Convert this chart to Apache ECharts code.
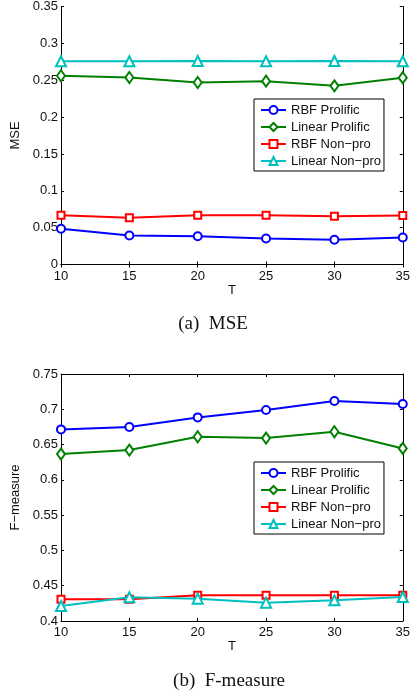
<!DOCTYPE html>
<html><head><meta charset="utf-8">
<script src="https://cdn.jsdelivr.net/npm/echarts@6/dist/echarts.min.js"></script>
<style>html,body{margin:0;padding:0;background:#fff}#c{width:413px;height:691px}</style>
</head><body><div id="c"></div>
<script>
var T = [10, 15, 20, 25, 30, 35];
var seriesNames = ['RBF Prolific', 'Linear Prolific', 'RBF Non\u2212pro', 'Linear Non\u2212pro'];
var mseRbfProlific = [0.0484, 0.0393, 0.0384, 0.0353, 0.0335, 0.0366];
var mseLinearProlific = [0.2560, 0.2537, 0.2469, 0.2487, 0.2424, 0.2533];
var mseRbfNonpro = [0.0669, 0.0633, 0.0669, 0.0669, 0.0655, 0.0664];
var mseLinearNonpro = [0.2758, 0.2758, 0.2760, 0.2758, 0.2760, 0.2758];
var fRbfProlific = [0.6715, 0.6748, 0.6885, 0.6989, 0.7117, 0.7074];
var fLinearProlific = [0.6365, 0.6422, 0.6611, 0.6592, 0.6682, 0.6445];
var fRbfNonpro = [0.4307, 0.4307, 0.4364, 0.4364, 0.4364, 0.4364];
var fLinearNonpro = [0.4213, 0.4335, 0.4317, 0.4260, 0.4293, 0.4341];
var captions = ['(a)  MSE', '(b)  F-measure'];

var colors = ['#0000ff', '#008000', '#ff0000', '#00bfbf'];
var symbols = ['emptyCircle', 'emptyDiamond', 'emptyRect', 'emptyTriangle'];
var symSizes = [8, [8, 11], 7, 10];
var font = 'Liberation Sans, Arial, sans-serif';

function pairs(v) { return T.map(function (t, i) { return [t, v[i]]; }); }

function mkSeries(dataSets, idx) {
  return dataSets.map(function (d, k) {
    return {
      type: 'line', name: seriesNames[k], xAxisIndex: idx * 2, yAxisIndex: idx * 2,
      data: pairs(d), symbol: symbols[k], symbolSize: symSizes[k],
      color: colors[k], lineStyle: { width: 2, color: colors[k] },
      itemStyle: { color: colors[k], borderWidth: 1.6 }, z: 3 + k,
      animation: false
    };
  });
}

var axisLine = { show: true, lineStyle: { color: '#000', width: 1 } };
var tick = { show: true, inside: true, length: 3, lineStyle: { color: '#000' } };
var lbl = { color: '#111', fontSize: 13, fontFamily: font };

function xAxes(gi) {
  return [
    { gridIndex: gi, type: 'value', min: 10, max: 35, interval: 5, name: 'T', nameLocation: 'middle', nameGap: 19,
      nameTextStyle: { color: '#111', fontSize: 13, fontFamily: font },
      axisLine: axisLine, axisTick: tick, axisLabel: Object.assign({ margin: 5 }, lbl), splitLine: { show: false } },
    { gridIndex: gi, type: 'value', position: 'top', min: 10, max: 35, interval: 5,
      axisLine: axisLine, axisTick: tick, axisLabel: { show: false }, splitLine: { show: false } }
  ];
}
function yAxes(gi, min, max, name) {
  return [
    { gridIndex: gi, type: 'value', min: min, max: max, interval: 0.05, name: name, nameLocation: 'middle', nameGap: 29,
      nameTextStyle: { color: '#111', fontSize: 13, fontFamily: font },
      axisLine: axisLine, axisTick: tick, axisLabel: Object.assign({ margin: 3 }, lbl), splitLine: { show: false } },
    { gridIndex: gi, type: 'value', position: 'right', min: min, max: max, interval: 0.05,
      axisLine: axisLine, axisTick: tick, axisLabel: { show: false }, splitLine: { show: false } }
  ];
}

function legend(top) {
  return {
    data: seriesNames, left: 254, top: top, orient: 'vertical',
    backgroundColor: '#fff', borderColor: '#000', borderWidth: 1,
    padding: [4, 3, 3, 6], itemGap: 3, itemWidth: 25, itemHeight: 10,
    textStyle: { color: '#111', fontSize: 13, fontFamily: font, lineHeight: 14 },
    selectedMode: false
  };
}

var chart = echarts.init(document.getElementById('c'), null, { renderer: 'canvas' });
chart.setOption({
  backgroundColor: '#fff',
  animation: false,
  grid: [
    { left: 61, top: 6.5, width: 342, height: 258 },
    { left: 61, top: 374, width: 342, height: 247 }
  ],
  xAxis: xAxes(0).concat(xAxes(1)),
  yAxis: yAxes(0, 0, 0.35, 'MSE').concat(yAxes(1, 0.4, 0.75, 'F\u2212measure')),
  legend: [legend(99), legend(462)],
  title: [
    { text: captions[0], left: 208, top: 310, textAlign: 'center',
      textStyle: { fontFamily: 'Liberation Serif, Times New Roman, serif', fontWeight: 'normal', fontSize: 19, color: '#111' } },
    { text: captions[1], left: 224, top: 667, textAlign: 'center',
      textStyle: { fontFamily: 'Liberation Serif, Times New Roman, serif', fontWeight: 'normal', fontSize: 19, color: '#111' } }
  ],
  series: mkSeries([mseRbfProlific, mseLinearProlific, mseRbfNonpro, mseLinearNonpro], 0)
    .concat(mkSeries([fRbfProlific, fLinearProlific, fRbfNonpro, fLinearNonpro], 1))
});
</script></body></html>
